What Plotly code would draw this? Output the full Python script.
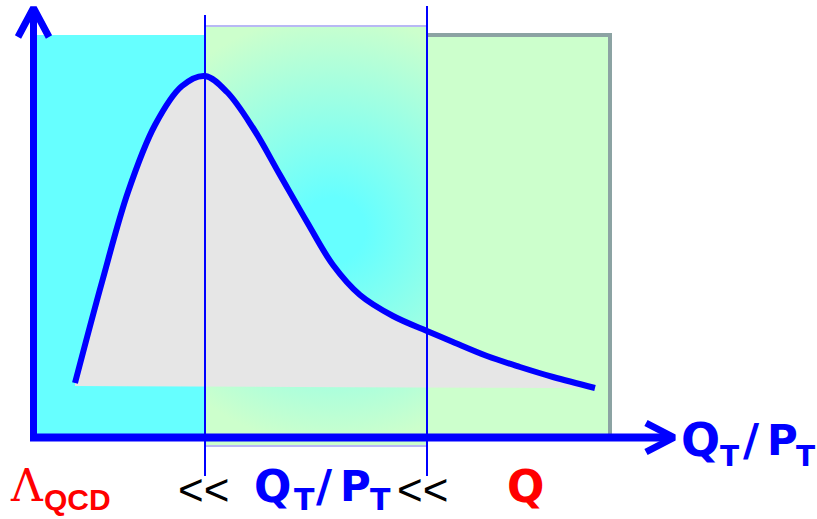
import base64
import plotly.graph_objects as go

# curve of the distribution (pixel-like coordinates, y grows downward)
CURVE_X = [75, 102, 128, 155, 182, 205, 227, 253, 280, 307, 333, 360, 393, 427,
           453, 487, 520, 553, 595]
CURVE_Y = [383, 282, 192, 125, 86, 76, 92, 128, 175, 222, 265, 295, 316, 331,
           342, 356, 367, 377, 388]
FILL_BASE_Y = [388, 386]

# region boundaries
REGION_LEFT = [37, 205]
REGION_MID = [205, 427]
REGION_RIGHT = [400, 610]
DIVIDERS = [205, 427]

BLUE = "#0000ff"
RED = "#ff0000"
CYAN = "#66ffff"
GREEN = "#ccffcc"

bottom_glyphs = [
    # text, x, y, size, color, family, weight
    ("Λ", 8, 485, 44, RED, "DejaVu Serif", "normal"),
    ("QCD", 42, 499, 30, RED, "Liberation Sans", "bold"),
    ("<<", 176, 489, 44, "black", "Liberation Sans", "normal"),
    ("Q", 252, 486, 44, BLUE, "DejaVu Sans", "bold"),
    ("T", 292, 499, 30, BLUE, "DejaVu Sans", "bold"),
    ("/", 314, 486, 44, BLUE, "DejaVu Sans", "bold"),
    ("P", 338, 486, 42, BLUE, "DejaVu Sans", "bold"),
    ("T", 368, 499, 30, BLUE, "DejaVu Sans", "bold"),
    ("<<", 395, 489, 44, "black", "Liberation Sans", "normal"),
    ("Q", 505, 486, 44, RED, "DejaVu Sans", "bold"),
]
axis_glyphs = [
    ("Q", 679, 440, 46, BLUE, "DejaVu Sans", "bold"),
    ("T", 718, 456, 28, BLUE, "DejaVu Sans", "bold"),
    ("/", 741, 440, 44, BLUE, "DejaVu Sans", "bold"),
    ("P", 765, 440, 42, BLUE, "DejaVu Sans", "bold"),
    ("T", 794, 456, 28, BLUE, "DejaVu Sans", "bold"),
]

fig = go.Figure()

# background boxes
fig.add_shape(type="rect", x0=REGION_LEFT[0], x1=REGION_LEFT[1], y0=35, y1=437,
              fillcolor=CYAN, line_width=0, layer="below")
fig.add_shape(type="rect", x0=REGION_RIGHT[0], x1=REGION_RIGHT[1], y0=35, y1=436,
              fillcolor=GREEN, line=dict(color="#8ca3a3", width=4), layer="below")

# middle box: radial cyan -> green gradient, as an svg image
w = REGION_MID[1] - REGION_MID[0]
h = 447 - 25
svg = f'''<svg xmlns="http://www.w3.org/2000/svg" width="{w}" height="{h}" viewBox="0 0 {w} {h}">
<defs><radialGradient id="g" gradientUnits="userSpaceOnUse" cx="128" cy="205" r="215">
<stop offset="0" stop-color="{CYAN}"/><stop offset="0.15" stop-color="{CYAN}"/>
<stop offset="1" stop-color="{GREEN}"/></radialGradient></defs>
<rect x="0" y="0" width="{w}" height="{h}" fill="url(#g)"/>
<rect x="0" y="1" width="{w}" height="{h - 2}" fill="none" stroke="#b8b8f4" stroke-width="2"/>
</svg>'''
src = "data:image/svg+xml;base64," + base64.b64encode(svg.encode()).decode()
fig.add_layout_image(source=src, xref="x", yref="y", x=REGION_MID[0], y=25,
                     sizex=w, sizey=h, sizing="stretch", xanchor="left",
                     yanchor="top", layer="below")

# grey area under the curve
fig.add_trace(go.Scatter(
    x=CURVE_X + [CURVE_X[-1], CURVE_X[0]],
    y=CURVE_Y + FILL_BASE_Y,
    mode="lines", line=dict(width=0, shape="spline", smoothing=1),
    fill="toself", fillcolor="#e6e6e6", hoverinfo="skip"))

# the curve
fig.add_trace(go.Scatter(x=CURVE_X, y=CURVE_Y, mode="lines",
                         line=dict(color=BLUE, width=6, shape="spline", smoothing=1),
                         hoverinfo="skip"))

# thin dividers
fig.add_shape(type="line", x0=DIVIDERS[0], x1=DIVIDERS[0], y0=15, y1=476,
              line=dict(color=BLUE, width=2))
fig.add_shape(type="line", x0=DIVIDERS[1], x1=DIVIDERS[1], y0=6, y1=476,
              line=dict(color=BLUE, width=2))

# axes with arrow heads
fig.add_trace(go.Scatter(x=[33.5, 33.5], y=[441, 10], mode="lines",
                         line=dict(color=BLUE, width=7), hoverinfo="skip"))
fig.add_trace(go.Scatter(x=[18, 33.5, 49], y=[37, 8, 37], mode="lines",
                         line=dict(color=BLUE, width=7), hoverinfo="skip"))
fig.add_trace(go.Scatter(x=[30, 670], y=[437.5, 437.5], mode="lines",
                         line=dict(color=BLUE, width=8), hoverinfo="skip"))
fig.add_trace(go.Scatter(x=[646, 674, 646], y=[423, 437.5, 452], mode="lines",
                         line=dict(color=BLUE, width=7), hoverinfo="skip"))

for txt, x, y, size, color, family, weight in bottom_glyphs + axis_glyphs:
    fig.add_annotation(text=txt, x=x, y=y, xref="x", yref="y",
                       xanchor="left", yanchor="middle", showarrow=False,
                       font=dict(family=family, size=size, color=color, weight=weight))

fig.update_layout(
    width=817, height=519,
    margin=dict(l=0, r=0, t=0, b=0),
    xaxis=dict(range=[0, 817], visible=False),
    yaxis=dict(range=[519, 0], visible=False),
    plot_bgcolor="white", paper_bgcolor="white",
    showlegend=False,
)

# drop the page's default body margin so the figure sits at the top-left corner
fig.write_html("out.html", config={"displayModeBar": False},
               post_script="document.body.style.margin = '0';")
